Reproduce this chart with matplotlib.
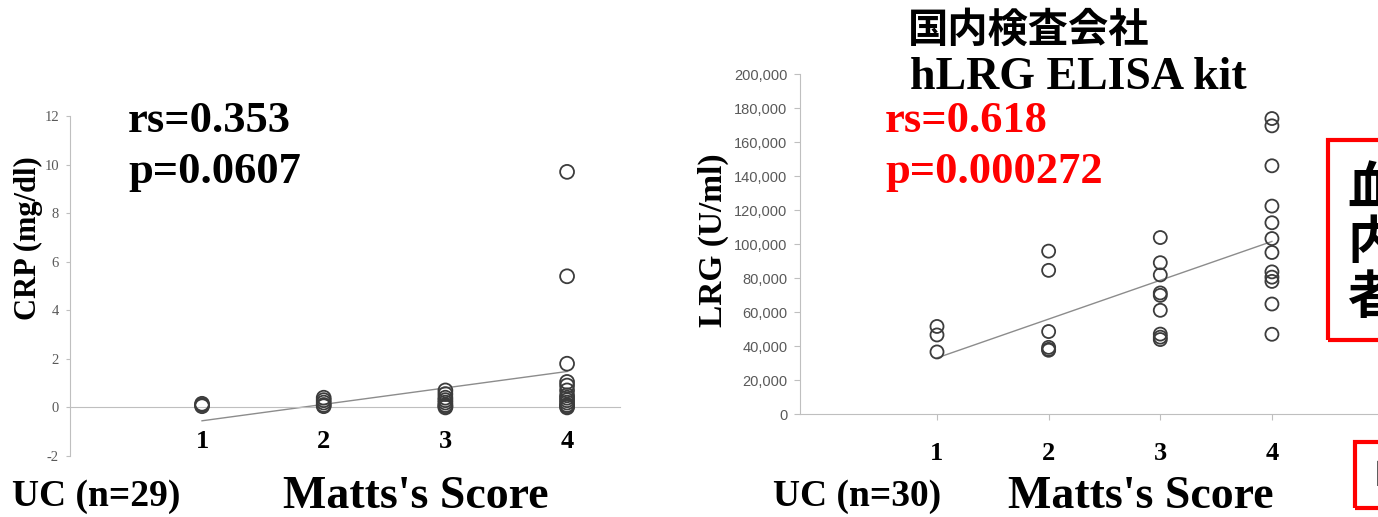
import numpy as np
import matplotlib
matplotlib.use('Agg')
from matplotlib import pyplot as plt
from matplotlib.patches import Rectangle

plt.rcParams['axes.unicode_minus'] = False

W, H = 1378, 517

# left panel: CRP vs Matts's score
crp_x1 = [0.1, 0.15, 0.05]
crp_x2 = [0.4, 0.3, 0.2, 0.1, 0.05]
crp_x3 = [0.7, 0.55, 0.4, 0.3, 0.2, 0.1, 0.05, 0.0]
crp_x4 = [9.7, 5.4, 1.8, 1.05, 0.9, 0.7, 0.5, 0.4, 0.3, 0.2, 0.1, 0.05, 0.0]
crp_trend = [-0.55, 1.48]

# right panel: LRG vs Matts's score
lrg_x1 = [51500, 46500, 36500]
lrg_x2 = [95800, 84500, 48500, 39200, 38000, 37500]
lrg_x3 = [103800, 89000, 81800, 71200, 69800, 61000, 47000, 45200, 43800]
lrg_x4 = [173800, 169500, 146000, 122300, 112500, 103200, 95000, 83600, 80500,
          78000, 64700, 46900]
lrg_trend = [33000, 101500]

scores = [1, 2, 3, 4]
crp_ticks = [-2, 0, 2, 4, 6, 8, 10, 12]
lrg_ticks = list(range(0, 200001, 20000))

serif = 'Liberation Serif'
sans = 'Liberation Sans'
cjk = ['Noto Sans CJK JP', 'DejaVu Sans']
grey = '#bfbfbf'
edge = '#3c3c3c'


def box(x0, y0, x1, y1):
    # pixel box -> figure fraction [left, bottom, width, height]
    return [x0 / W, 1 - y1 / H, (x1 - x0) / W, (y1 - y0) / H]


def px(x, y):
    return x / W, 1 - y / H


fig = plt.figure(figsize=(W / 100, H / 100), dpi=100)

# ---- left chart ----
ax1 = fig.add_axes(box(70, 116, 620, 456))
for xs, vals in zip(scores, [crp_x1, crp_x2, crp_x3, crp_x4]):
    ax1.scatter([xs] * len(vals), vals, s=100, facecolors='none',
                edgecolors=edge, linewidths=1.3, zorder=3, clip_on=False)
ax1.plot([1, 4], crp_trend, color='#8c8c8c', lw=1.0, zorder=2)
ax1.set_xlim(-0.085, 4.435)
ax1.set_ylim(-2, 12)
ax1.set_yticks(crp_ticks)
ax1.set_xticks(scores)
ax1.spines['top'].set_visible(False)
ax1.spines['right'].set_visible(False)
ax1.spines['left'].set_color(grey)
ax1.spines['bottom'].set_color(grey)
ax1.spines['bottom'].set_position(('data', 0))
ax1.tick_params(axis='y', length=3, color=grey, pad=5, labelsize=10.5,
                labelcolor='#595959')
ax1.tick_params(axis='x', length=0, pad=16.5, labelsize=19)
for t in ax1.get_yticklabels():
    t.set_fontfamily(serif)
for t in ax1.get_xticklabels():
    t.set_fontfamily(serif)
    t.set_fontweight('bold')

# ---- right chart ----
ax2 = fig.add_axes(box(800, 74, 1378, 414))
for xs, vals in zip(scores, [lrg_x1, lrg_x2, lrg_x3, lrg_x4]):
    ax2.scatter([xs] * len(vals), vals, s=88, facecolors='none',
                edgecolors=edge, linewidths=1.3, zorder=3, clip_on=False)
ax2.plot([1, 4], lrg_trend, color='#8c8c8c', lw=1.0, zorder=2)
ax2.set_xlim(-0.227, 4.95)
ax2.set_ylim(0, 200000)
ax2.set_yticks(lrg_ticks)
ax2.set_yticklabels(['{:,}'.format(v) for v in lrg_ticks])
ax2.set_xticks(scores)
ax2.spines['top'].set_visible(False)
ax2.spines['right'].set_visible(False)
ax2.spines['left'].set_color(grey)
ax2.spines['bottom'].set_color(grey)
ax2.tick_params(axis='y', length=4, color=grey, pad=5, labelsize=10.5,
                labelcolor='#595959')
ax2.tick_params(axis='x', length=4, color=grey, pad=16.5, labelsize=19)
for t in ax2.get_yticklabels():
    t.set_fontfamily(sans)
for t in ax2.get_xticklabels():
    t.set_fontfamily(serif)
    t.set_fontweight('bold')

# ---- texts ----
bold = dict(family=serif, weight='bold')
fig.text(*px(128, 132), 'rs=0.353', fontsize=32, va='baseline', **bold)
fig.text(*px(128, 183), 'p=0.0607', fontsize=32, va='baseline', **bold)
fig.text(*px(12, 506), 'UC (n=29)', fontsize=27, va='baseline', **bold)
fig.text(*px(283, 508), "Matts's Score", fontsize=33, va='baseline', **bold)
fig.text(*px(28, 238), 'CRP (mg/dl)', fontsize=22, rotation=90,
         ha='center', va='center', **bold)

fig.text(*px(908, 30), '国内検査会社', fontsize=29, family=cjk, weight='bold',
         va='center')
fig.text(*px(910, 89), 'hLRG ELISA kit', fontsize=33, va='baseline', **bold)
fig.text(*px(885, 132), 'rs=0.618', fontsize=32, va='baseline', color='#ff0000',
         **bold)
fig.text(*px(885, 183), 'p=0.000272', fontsize=32, va='baseline',
         color='#ff0000', **bold)
fig.text(*px(773, 506), 'UC (n=30)', fontsize=27, va='baseline', **bold)
fig.text(*px(1008, 508), "Matts's Score", fontsize=33, va='baseline', **bold)
fig.text(*px(713, 240), 'LRG (U/ml)', fontsize=24, rotation=90,
         ha='center', va='center', **bold)

# red boxes cut by the right edge
fig.patches.append(Rectangle(px(1328, 340), 100 / W, 200 / H, fill=False,
                             edgecolor='#ff0000', lw=3, transform=fig.transFigure))
fig.patches.append(Rectangle(px(1355, 508), 100 / W, 66 / H, fill=False,
                             edgecolor='#ff0000', lw=3, transform=fig.transFigure))
for yy, ch in zip([188, 243, 297], ['血', '内', '者']):
    fig.text(*px(1347, yy), ch, fontsize=37, family=cjk, weight='bold',
             va='center')
fig.text(*px(1372, 476), '日', fontsize=22, family=cjk, va='center')

fig.savefig('out.png', dpi=100, facecolor='white')
